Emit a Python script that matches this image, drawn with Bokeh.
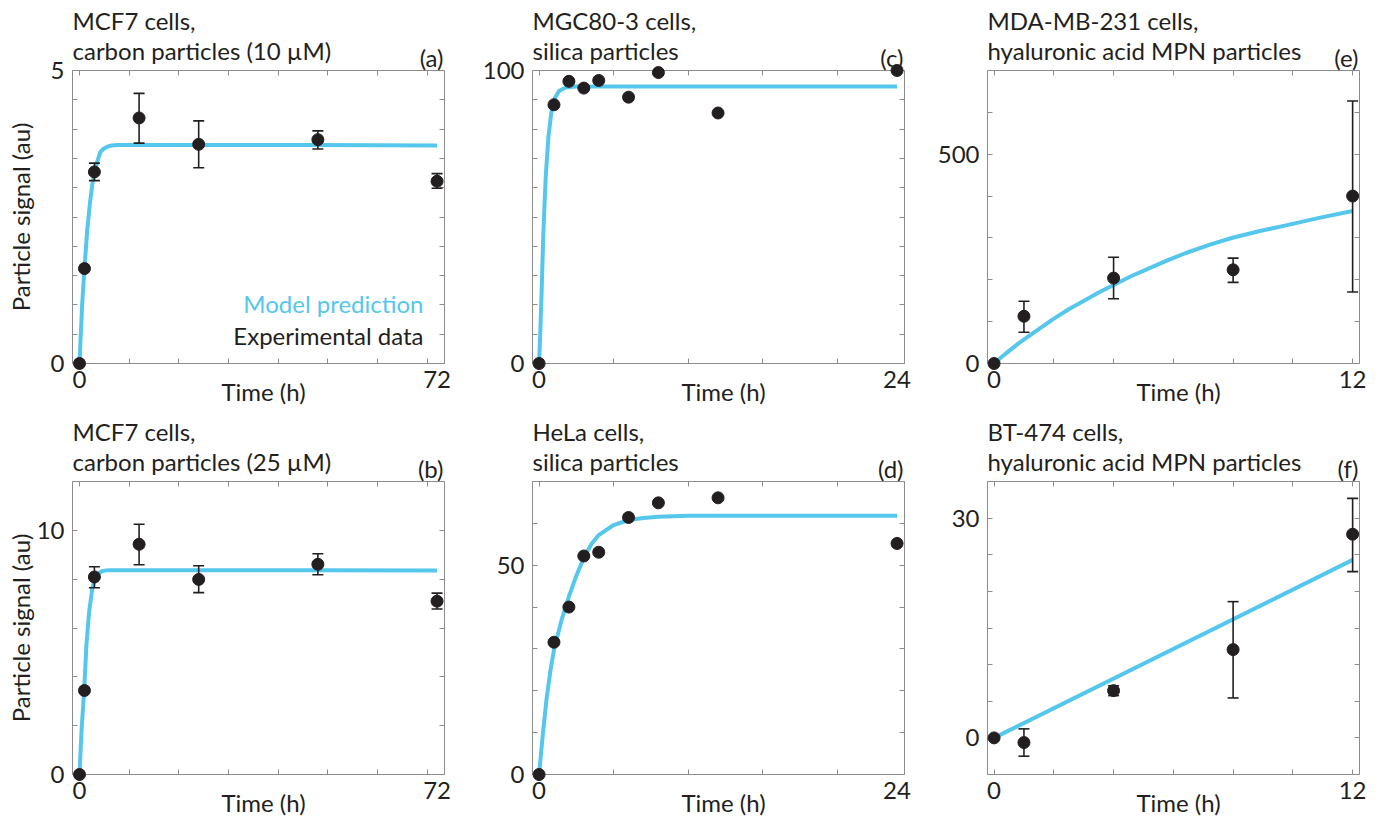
import math
from bokeh.plotting import figure
from bokeh.models import (ColumnDataSource, Whisker, TeeHead, LinearAxis,
                          FixedTicker, Range1d)
from bokeh.core.properties import value
from bokeh.layouts import column, row
from bokeh.embed import file_html
from bokeh.resources import INLINE

# ---------------- data ----------------
# (a) MCF7, carbon 10 uM
a_t = [0, 1, 3, 12, 24, 48, 72]
a_y = [0, 1.62, 3.27, 4.19, 3.74, 3.82, 3.11]
a_lo = [0, 1.60, 3.12, 3.76, 3.34, 3.66, 2.99]
a_hi = [0, 1.64, 3.42, 4.61, 4.14, 3.97, 3.24]
a_model_t = [0, 0.54, 1.0, 1.55, 2.08, 2.6, 3.2, 3.6, 4.2, 4.8, 5.6, 6.5, 7.6, 12, 24, 48, 72]
a_model_y = [0, 1.02, 1.62, 2.27, 2.72, 3.07, 3.32, 3.45, 3.61, 3.66, 3.70, 3.72, 3.73, 3.73, 3.73, 3.73, 3.72]

# (b) MCF7, carbon 25 uM
b_t = [0, 1, 3, 12, 24, 48, 72]
b_y = [0, 3.44, 8.09, 9.43, 7.99, 8.61, 7.10]
b_lo = [0, 3.42, 7.65, 8.59, 7.45, 8.18, 6.78]
b_hi = [0, 3.46, 8.51, 10.25, 8.55, 9.04, 7.43]
b_model_t = [0, 0.4, 0.94, 1.4, 1.95, 2.6, 3.4, 4.0, 4.6, 5.4, 6.2, 8, 24, 48, 72]
b_model_y = [0, 1.77, 3.48, 5.33, 6.69, 7.65, 8.13, 8.26, 8.33, 8.36, 8.37, 8.37, 8.37, 8.37, 8.36]

# (c) MGC80-3, silica
c_t = [0, 1, 2, 3, 4, 6, 8, 12, 24]
c_y = [0, 88.3, 96.3, 94.0, 96.6, 90.9, 99.3, 85.5, 100]
c_model_t = [0, 0.07, 0.18, 0.29, 0.45, 0.63, 0.83, 1.05, 1.34, 1.79, 2.5, 4, 12, 24]
c_model_y = [0, 9, 26, 45, 64, 77.5, 86, 90.5, 93, 94.2, 94.5, 94.5, 94.5, 94.5]

# (d) HeLa, silica
d_t = [0, 1, 2, 3, 4, 6, 8, 12, 24]
d_y = [0, 31.6, 40.0, 52.2, 53.1, 61.4, 64.9, 66.1, 55.2]
d_model_t = [0, 0.25, 0.5, 0.75, 1.0, 1.5, 2.0, 2.5, 3.0, 3.5, 4.0, 5.0, 6.0, 7.0, 8.0, 10, 12, 24]
d_model_y = [0, 9.5, 18, 24.5, 29.8, 36.8, 42.5, 47.5, 51.8, 55.0, 57.2, 59.6, 60.8, 61.3, 61.6, 61.8, 61.8, 61.8]

# (e) MDA-MB-231, HA MPN
e_t = [0, 1, 4, 8, 12]
e_y = [0, 112.9, 204.0, 223.8, 400.0]
e_lo = [0, 74.8, 154.8, 193.8, 170.7]
e_hi = [0, 148.6, 254.0, 251.7, 627.0]
e_model_t = [0, 0.42, 0.84, 1.4, 1.95, 2.5, 3.07, 3.5, 4.0, 4.6, 5.3, 5.8, 6.42, 7.2, 7.98, 8.9, 9.77, 10.88, 12.0]
e_model_y = [0, 25.5, 49.2, 77.5, 104.8, 129.5, 152.4, 169.5, 187.5, 209, 231.0, 246.5, 264.0, 283.5, 300.5, 316.5, 330.0, 348.0, 364.3]

# (f) BT-474, HA MPN
f_t = [0, 1, 4, 8, 12]
f_y = [0, -0.64, 6.45, 12.05, 27.8]
f_lo = [0, -2.5, 5.77, 5.45, 22.7]
f_hi = [0, 1.23, 7.1, 18.6, 32.7]
f_model_t = [0, 12]
f_model_y = [0, 24.3]

# tick labels / tick marks
x72_labels = [0, 72]
x72_minor = [0, 10, 20, 30, 40, 50, 60, 70]
x24_labels = [0, 24]
x24_minor = [0, 5, 10, 15, 20]
x12_labels = [0, 12]
x12_minor = [0, 2, 4, 6, 8, 10, 12]
ya_labels, ya_minor = [0, 5], [0, 0.5, 1, 1.5, 2, 2.5, 3, 3.5, 4, 4.5, 5]
yb_labels, yb_minor = [0, 10], [0, 2, 4, 6, 8, 10, 12]
yc_labels, yc_minor = [0, 100], [0, 10, 20, 30, 40, 50, 60, 70, 80, 90, 100]
yd_labels, yd_minor = [0, 50], [0, 10, 20, 30, 40, 50, 60, 70]
ye_labels, ye_minor = [0, 500], [0, 100, 200, 300, 400, 500, 600, 700]
yf_labels, yf_minor = [0, 30], [-5, 0, 5, 10, 15, 20, 25, 30, 35]

# ---------------- style ----------------
CYAN = "#55C7EC"
DARK = "#231F20"
GRAY = "#8C8C8C"
FONT = "Lato"
FS = "24px"


def make_panel(title1, title2, letter, t, y, lo, hi, mt, my,
               xr, yr, xlab, xmin, ylab, ymin,
               left_border, right_border, top_border, bottom_border,
               ylabel=False, legend=False):
    p = figure(frame_width=372, frame_height=293,
               min_border_left=left_border, min_border_right=right_border,
               min_border_top=top_border, min_border_bottom=bottom_border,
               x_range=Range1d(*xr), y_range=Range1d(*yr),
               toolbar_location=None, output_backend="svg",
               x_axis_location=None, y_axis_location=None)
    p.background_fill_color = "white"
    p.border_fill_color = "white"
    p.outline_line_color = GRAY
    p.outline_line_width = 1
    p.xgrid.visible = False
    p.ygrid.visible = False

    def axis(ticks, minor):
        ax = LinearAxis(ticker=FixedTicker(ticks=ticks, minor_ticks=minor))
        ax.axis_line_color = None
        ax.major_tick_in = 0
        ax.major_tick_out = 0
        ax.minor_tick_in = 5
        ax.minor_tick_out = 0
        ax.minor_tick_line_color = GRAY
        ax.minor_tick_line_width = 1
        ax.major_label_text_font = FONT
        ax.major_label_text_font_size = FS
        ax.major_label_text_color = DARK
        return ax

    xb = axis(xlab, xmin)
    xb.major_label_standoff = 7
    p.add_layout(xb, "below")
    yl = axis(ylab, ymin)
    yl.major_label_standoff = 8
    p.add_layout(yl, "left")
    # mirrored tick marks (no labels)
    p.add_layout(axis([], xmin), "above")
    p.add_layout(axis([], ymin), "right")

    # model curve
    p.line(mt, my, line_color=CYAN, line_width=4)

    # error bars
    if lo is not None:
        rows = [i for i in range(len(t)) if hi[i] != lo[i]]
        src = ColumnDataSource(dict(t=[t[i] for i in rows],
                                    lo=[lo[i] for i in rows],
                                    hi=[hi[i] for i in rows]))
        w = Whisker(base="t", lower="lo", upper="hi", source=src,
                    line_color=DARK, line_width=1.6, level="annotation",
                    upper_head=TeeHead(size=11, line_color=DARK, line_width=1.6),
                    lower_head=TeeHead(size=11, line_color=DARK, line_width=1.6))
        p.add_layout(w)

    # data points
    p.scatter(t, y, size=12, fill_color=DARK, line_color=DARK, level="overlay")

    x0, x1 = xr
    y0, y1 = yr

    def txt(text, x, y, xo, yo, align, color=DARK, angle=0.0):
        p.text(x=[x], y=[y], text=[text], x_offset=xo, y_offset=yo,
               angle=angle, text_align=align, text_baseline="middle",
               text_font=value(FONT), text_font_size=value(FS),
               text_color=color, level="overlay")

    txt(title1, x0, y1, 0, -50, "left")
    txt(title2, x0, y1, 0, -20, "left")
    txt(letter, x1, y1, -1, -13, "right")
    txt("Time (h)", (x0 + x1) / 2, y0, 5, 28, "center")
    if ylabel:
        txt("Particle signal (au)", x0, (y0 + y1) / 2, -52, 0, "center",
            angle=math.pi / 2)
    if legend:
        txt("Model prediction", x1, y0, -21, -60, "right", color=CYAN)
        txt("Experimental data", x1, y0, -21, -28, "right")
    return p


pa = make_panel("MCF7 cells,", "carbon particles (10 µM)", "(a)",
                a_t, a_y, a_lo, a_hi, a_model_t, a_model_y,
                (-1.41, 73.5), (0, 5), x72_labels, x72_minor, ya_labels, ya_minor,
                72, 24, 70, 48, ylabel=True, legend=True)
pb = make_panel("MCF7 cells,", "carbon particles (25 µM)", "(b)",
                b_t, b_y, b_lo, b_hi, b_model_t, b_model_y,
                (-1.41, 73.5), (0, 12), x72_labels, x72_minor, yb_labels, yb_minor,
                72, 24, 70, 45, ylabel=True)
pc = make_panel("MGC80-3 cells,", "silica particles", "(c)",
                c_t, c_y, None, None, c_model_t, c_model_y,
                (-0.44, 24.5), (0, 100), x24_labels, x24_minor, yc_labels, yc_minor,
                64, 19, 70, 48)
pd_ = make_panel("HeLa cells,", "silica particles", "(d)",
                 d_t, d_y, None, None, d_model_t, d_model_y,
                 (-0.44, 24.5), (0, 70), x24_labels, x24_minor, yd_labels, yd_minor,
                 64, 19, 70, 45)
pe = make_panel("MDA-MB-231 cells,", "hyaluronic acid MPN particles", "(e)",
                e_t, e_y, e_lo, e_hi, e_model_t, e_model_y,
                (-0.22, 12.23), (0, 700), x12_labels, x12_minor, ye_labels, ye_minor,
                64, 14, 70, 48)
pf = make_panel("BT-474 cells,", "hyaluronic acid MPN particles", "(f)",
                f_t, f_y, f_lo, f_hi, f_model_t, f_model_y,
                (-0.22, 12.23), (-5, 35), x12_labels, x12_minor, yf_labels, yf_minor,
                64, 14, 70, 45)

layout = column(row(pa, pc, pe), row(pb, pd_, pf))
open("out.html", "w").write(file_html(layout, INLINE))
